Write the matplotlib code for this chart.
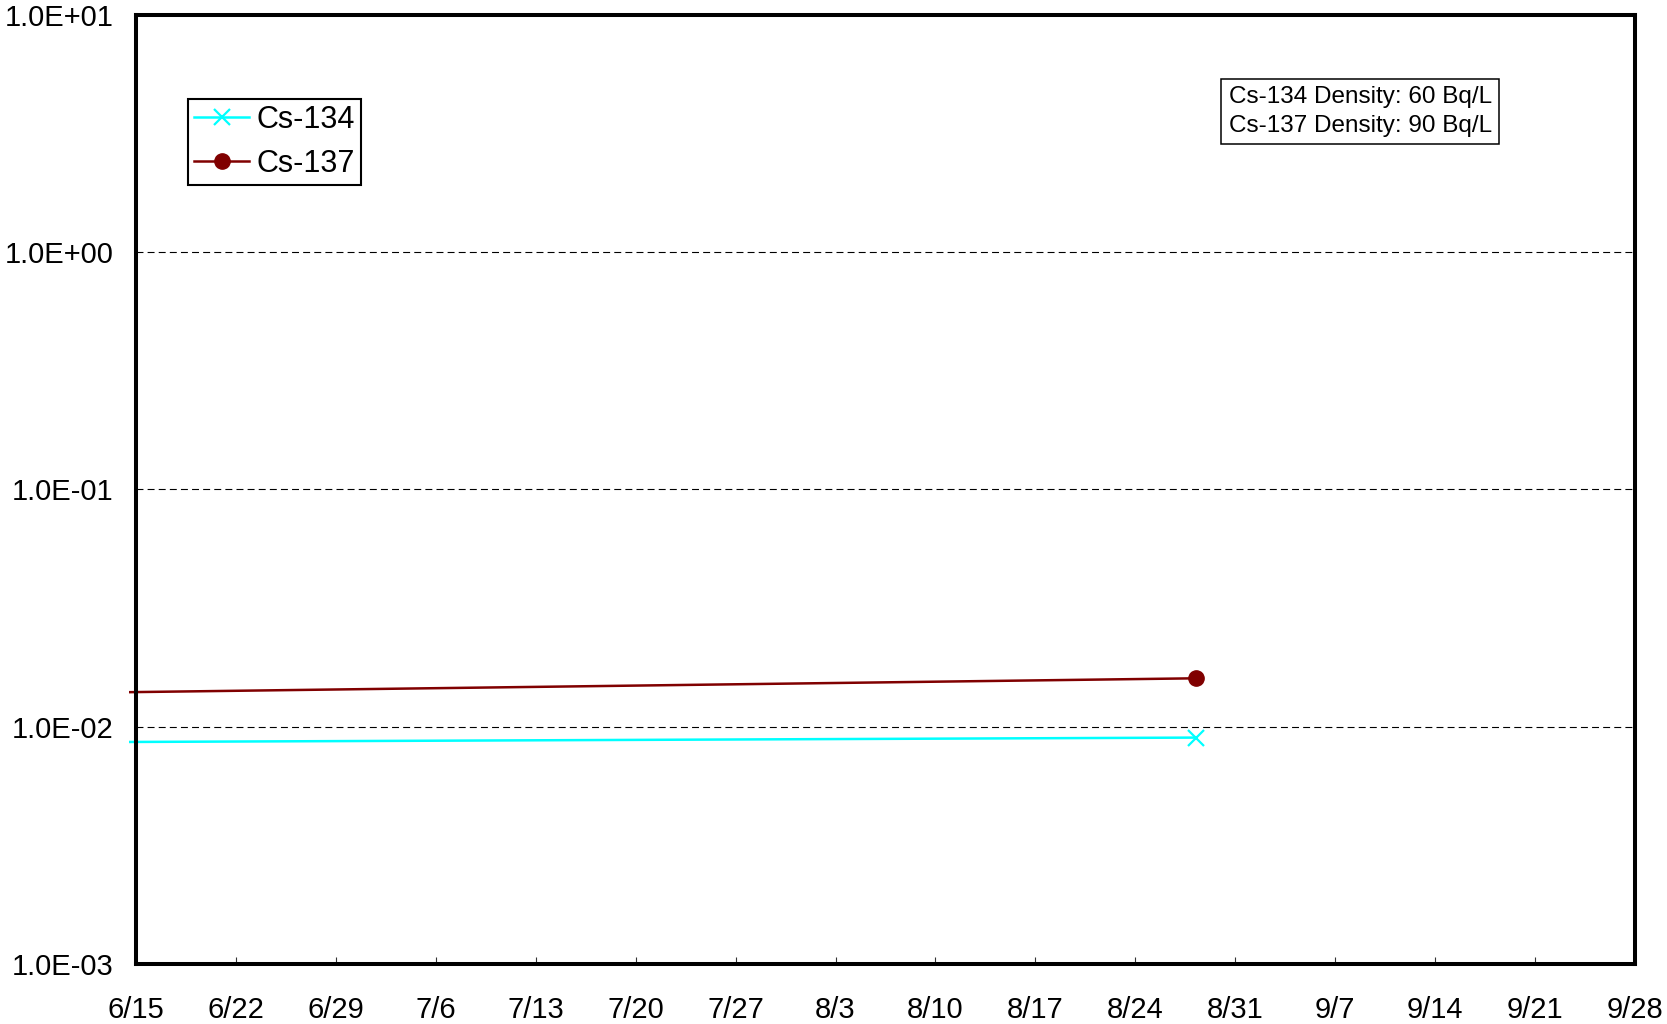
import numpy as np
import pandas as pd
import matplotlib
matplotlib.use("Agg")
import matplotlib.pyplot as plt
import matplotlib.dates as mdates
from matplotlib.ticker import FuncFormatter, NullLocator
from matplotlib.transforms import Bbox

plt.rcParams['font.family'] = ['Liberation Sans', 'DejaVu Sans']
plt.rcParams['lines.scale_dashes'] = False

# sampling dates (first one is before the plotted window)
dates = pd.to_datetime(["2011-05-30 00:00", "2011-08-28 06:00"])
cs134 = [8.55e-03, 9.0e-03]
cs137 = [1.36e-02, 1.6e-02]

x_start = pd.Timestamp("2011-06-15")
x_end = pd.Timestamp("2011-09-28")
x_ticks = pd.date_range(x_start, x_end, freq="7D")
y_ticks = [1e-3, 1e-2, 1e-1, 1e0, 1e1]

note = "Cs-134 Density: 60 Bq/L\nCs-137 Density: 90 Bq/L"

fig = plt.figure(figsize=(16.67, 10.24), dpi=100)
ax = fig.add_axes([0.0816, 0.0586, 0.8992, 0.9268])

l134, = ax.plot(dates, cs134, color="#00FFFF", lw=1.8, marker="x",
                ms=11, mew=1.6, label="Cs-134")
l137, = ax.plot(dates, cs137, color="#800000", lw=1.8, marker="o",
                ms=11, label="Cs-137")

ax.set_yscale("log")
ax.set_ylim(1e-3, 1e1)
ax.set_xlim(x_start, x_end)
ax.set_yticks(y_ticks)
ax.yaxis.set_minor_locator(NullLocator())
ax.yaxis.set_major_formatter(FuncFormatter(lambda v, p: f"{v:.1E}"))
ax.set_xticks(x_ticks)
ax.xaxis.set_major_formatter(
    FuncFormatter(lambda v, p: f"{mdates.num2date(v).month}/{mdates.num2date(v).day}"))

ax.tick_params(axis="y", length=0, pad=16, labelsize=21)
ax.tick_params(axis="x", direction="in", length=5, width=0.8, color="#333333",
               pad=23, labelsize=21)
ax.grid(axis="y", color="black", lw=0.8, linestyle=(0, (5, 3)))
ax.set_axisbelow(True)
for s in ax.spines.values():
    s.set_linewidth(2.9)

# plot area clip reaches a little past the left axis line
x0, y0, x1, y1 = ax.bbox.extents
clip = Bbox.from_extents(x0 - 7, y0, x1, y1)
for ln in (l134, l137):
    ln.set_clip_box(clip)

leg = ax.legend(loc="upper left", bbox_to_anchor=(0.0347, 0.9115),
                borderaxespad=0, fancybox=False, edgecolor="black",
                fontsize=22, handlelength=1.8, handletextpad=0.25,
                borderpad=0.2, labelspacing=0.45, framealpha=1)
leg.get_frame().set_linewidth(1.5)

ax.text(0.729, 0.925, note, transform=ax.transAxes, ha="left", va="top",
        fontsize=17.5, linespacing=1.4,
        bbox=dict(boxstyle="square,pad=0.3", fc="white", ec="black", lw=1.1))

fig.savefig("out.png", dpi=100)
